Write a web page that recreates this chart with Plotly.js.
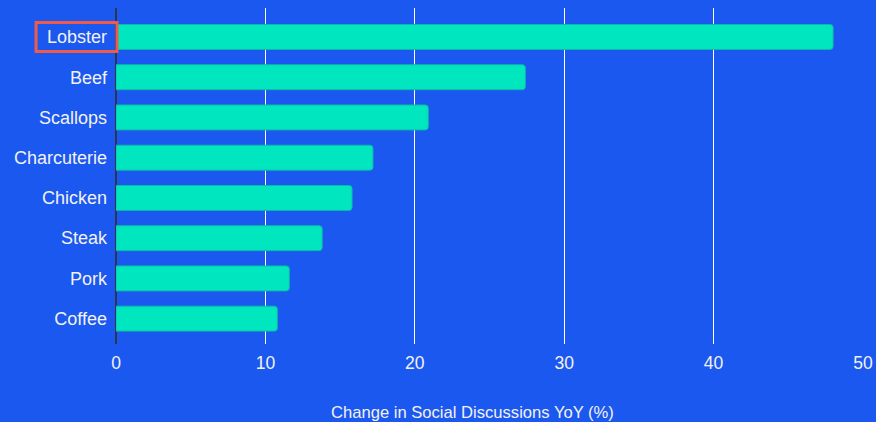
<!DOCTYPE html>
<html>
<head>
<meta charset="utf-8">
<script src="https://cdn.plot.ly/plotly-3.0.1.min.js"></script>
<style>html,body{margin:0;padding:0;background:#1b58f0;}#chart{width:876px;height:422px;}</style>
</head>
<body>
<div id="chart"></div>
<script>
// Categories listed bottom to top
const categories = ["Coffee", "Pork", "Steak", "Chicken", "Charcuterie", "Scallops", "Beef", "Lobster"];
const values = [10.8, 11.6, 13.8, 15.8, 17.2, 20.9, 27.4, 48.0];
const xTicks = [0, 10, 20, 30, 40, 50];
const highlighted = "Lobster";
const xTitle = "Change in Social Discussions YoY (%)";

const trace = {
  type: "bar",
  orientation: "h",
  x: values,
  y: categories,
  marker: {color: "#00e6be", line: {color: "#10b8a8", width: 1}},
  hoverinfo: "x+y"
};

const layout = {
  width: 876, height: 422,
  paper_bgcolor: "#1b58f0",
  plot_bgcolor: "#1b58f0",
  margin: {l: 116, r: 13, t: 8, b: 78},
  bargap: 0.38,
  barcornerradius: 3,
  showlegend: false,
  font: {family: "Liberation Sans, Arial, sans-serif", color: "#f2f2f2", size: 17},
  xaxis: {
    range: [0, 50],
    tickvals: xTicks,
    ticktext: xTicks.map(String),
    showgrid: true, gridcolor: "#ffffff", gridwidth: 1,
    zeroline: true, zerolinecolor: "#2a3552", zerolinewidth: 2,
    showline: false, ticks: "",
    ticklabelstandoff: 6,
    tickfont: {size: 17.5, color: "#f2f2f2"}
  },
  yaxis: {
    type: "category",
    categoryorder: "array", categoryarray: categories,
    range: [-0.63, 7.72],
    showgrid: false, zeroline: false, showline: false, ticks: "",
    ticklabelstandoff: 8,
    tickfont: {size: 18, color: "#f2f2f2"}
  },
  annotations: [{
    text: xTitle, xref: "paper", yref: "paper",
    x: 0.4766, y: -0.2035, xanchor: "center", yanchor: "middle",
    showarrow: false, font: {size: 16.6, color: "#f2f2f2"}
  }],
  shapes: [{
    type: "rect", xref: "paper", yref: "y",
    x0: -0.107, x1: 0.0013, y0: 7 - 0.36, y1: 7 + 0.36,
    line: {color: "#ee5b4a", width: 3}, fillcolor: "rgba(0,0,0,0)"
  }]
};

Plotly.newPlot("chart", [trace], layout, {displayModeBar: false, staticPlot: true});
</script>
</body>
</html>
